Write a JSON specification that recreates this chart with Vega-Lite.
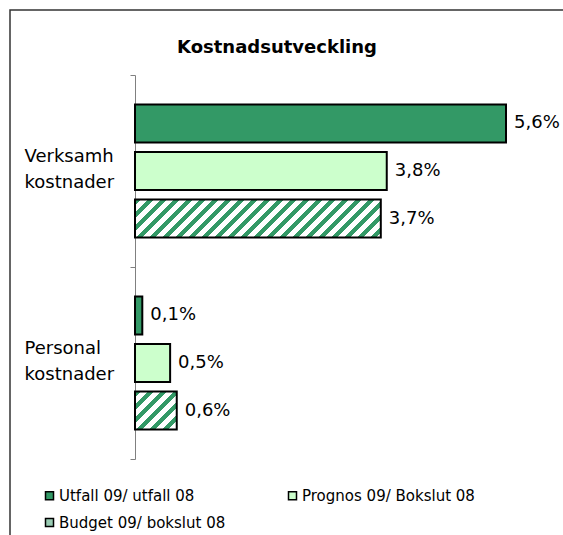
{
  "$schema": "https://vega.github.io/schema/vega-lite/v6.json",
  "width": 560,
  "height": 540,
  "autosize": {"type": "none"},
  "padding": {"left": 10, "top": 10, "right": 0, "bottom": 0},
  "background": "white",
  "title": {
    "text": "Kostnadsutveckling",
    "anchor": "start",
    "dx": 167,
    "offset": -70,
    "baseline": "alphabetic",
    "font": "DejaVu Sans",
    "fontSize": 18,
    "fontWeight": "bold",
    "color": "black"
  },
  "data": {
    "values": [
      {"cat": "Verksamh kostnader", "series": "Utfall 09/ utfall 08", "value": 0.056},
      {"cat": "Verksamh kostnader", "series": "Prognos 09/ Bokslut 08", "value": 0.038},
      {"cat": "Verksamh kostnader", "series": "Budget 09/ bokslut 08", "value": 0.0371},
      {"cat": "Personal kostnader", "series": "Utfall 09/ utfall 08", "value": 0.0011},
      {"cat": "Personal kostnader", "series": "Prognos 09/ Bokslut 08", "value": 0.0053},
      {"cat": "Personal kostnader", "series": "Budget 09/ bokslut 08", "value": 0.0063}
    ]
  },
  "encoding": {
    "y": {
      "field": "cat",
      "type": "nominal",
      "sort": ["Verksamh kostnader", "Personal kostnader"],
      "scale": {"range": [65, 449], "paddingInner": 0, "paddingOuter": 0},
      "axis": {
        "title": null,
        "offset": -125,
        "domainColor": "#808080",
        "tickColor": "#808080",
        "tickSize": 5,
        "tickBand": "extent",
        "labelFont": "DejaVu Sans",
        "labelFontSize": 18,
        "labelColor": "black",
        "labelAlign": "left",
        "labelBaseline": "middle",
        "labelPadding": 106,
        "labelOffset": -15,
        "labelLineHeight": 26,
        "labelLimit": 300,
        "labelExpr": "split(datum.label, ' ')"
      }
    },
    "yOffset": {
      "field": "series",
      "type": "nominal",
      "sort": ["Utfall 09/ utfall 08", "Prognos 09/ Bokslut 08", "Budget 09/ bokslut 08"],
      "scale": {"paddingInner": 0.2, "paddingOuter": 0.621}
    },
    "x": {
      "field": "value",
      "type": "quantitative",
      "scale": {"domain": [-0.01887, 0.06566], "nice": false, "zero": false},
      "axis": null
    }
  },
  "layer": [
    {
      "mark": {"type": "bar", "stroke": "black", "strokeWidth": 2},
      "encoding": {
        "x2": {"datum": 0},
        "fill": {
          "condition": [
            {
              "test": "datum.series === 'Budget 09/ bokslut 08' && datum.cat === 'Verksamh kostnader'",
              "value": {
                "gradient": "linear", "x1": 0, "y1": 0, "x2": 1.1277, "y2": 0.17434,
                "stops": [
                  {"offset": 0, "color": "#339966"}, {"offset": 0.0206, "color": "#339966"}, {"offset": 0.0206, "color": "#ffffff"}, {"offset": 0.0458, "color": "#ffffff"},
                  {"offset": 0.0458, "color": "#339966"}, {"offset": 0.0664, "color": "#339966"}, {"offset": 0.0664, "color": "#ffffff"}, {"offset": 0.0916, "color": "#ffffff"},
                  {"offset": 0.0916, "color": "#339966"}, {"offset": 0.1122, "color": "#339966"}, {"offset": 0.1122, "color": "#ffffff"}, {"offset": 0.1374, "color": "#ffffff"},
                  {"offset": 0.1374, "color": "#339966"}, {"offset": 0.158, "color": "#339966"}, {"offset": 0.158, "color": "#ffffff"}, {"offset": 0.1832, "color": "#ffffff"},
                  {"offset": 0.1832, "color": "#339966"}, {"offset": 0.2038, "color": "#339966"}, {"offset": 0.2038, "color": "#ffffff"}, {"offset": 0.229, "color": "#ffffff"},
                  {"offset": 0.229, "color": "#339966"}, {"offset": 0.2497, "color": "#339966"}, {"offset": 0.2497, "color": "#ffffff"}, {"offset": 0.2748, "color": "#ffffff"},
                  {"offset": 0.2748, "color": "#339966"}, {"offset": 0.2955, "color": "#339966"}, {"offset": 0.2955, "color": "#ffffff"}, {"offset": 0.3207, "color": "#ffffff"},
                  {"offset": 0.3207, "color": "#339966"}, {"offset": 0.3413, "color": "#339966"}, {"offset": 0.3413, "color": "#ffffff"}, {"offset": 0.3665, "color": "#ffffff"},
                  {"offset": 0.3665, "color": "#339966"}, {"offset": 0.3871, "color": "#339966"}, {"offset": 0.3871, "color": "#ffffff"}, {"offset": 0.4123, "color": "#ffffff"},
                  {"offset": 0.4123, "color": "#339966"}, {"offset": 0.4329, "color": "#339966"}, {"offset": 0.4329, "color": "#ffffff"}, {"offset": 0.4581, "color": "#ffffff"},
                  {"offset": 0.4581, "color": "#339966"}, {"offset": 0.4787, "color": "#339966"}, {"offset": 0.4787, "color": "#ffffff"}, {"offset": 0.5039, "color": "#ffffff"},
                  {"offset": 0.5039, "color": "#339966"}, {"offset": 0.5245, "color": "#339966"}, {"offset": 0.5245, "color": "#ffffff"}, {"offset": 0.5497, "color": "#ffffff"},
                  {"offset": 0.5497, "color": "#339966"}, {"offset": 0.5703, "color": "#339966"}, {"offset": 0.5703, "color": "#ffffff"}, {"offset": 0.5955, "color": "#ffffff"},
                  {"offset": 0.5955, "color": "#339966"}, {"offset": 0.6161, "color": "#339966"}, {"offset": 0.6161, "color": "#ffffff"}, {"offset": 0.6413, "color": "#ffffff"},
                  {"offset": 0.6413, "color": "#339966"}, {"offset": 0.6619, "color": "#339966"}, {"offset": 0.6619, "color": "#ffffff"}, {"offset": 0.6871, "color": "#ffffff"},
                  {"offset": 0.6871, "color": "#339966"}, {"offset": 0.7077, "color": "#339966"}, {"offset": 0.7077, "color": "#ffffff"}, {"offset": 0.7329, "color": "#ffffff"},
                  {"offset": 0.7329, "color": "#339966"}, {"offset": 0.7535, "color": "#339966"}, {"offset": 0.7535, "color": "#ffffff"}, {"offset": 0.7787, "color": "#ffffff"},
                  {"offset": 0.7787, "color": "#339966"}, {"offset": 0.7994, "color": "#339966"}, {"offset": 0.7994, "color": "#ffffff"}, {"offset": 0.8245, "color": "#ffffff"},
                  {"offset": 0.8245, "color": "#339966"}, {"offset": 0.8452, "color": "#339966"}, {"offset": 0.8452, "color": "#ffffff"}, {"offset": 0.8704, "color": "#ffffff"},
                  {"offset": 0.8704, "color": "#339966"}, {"offset": 0.891, "color": "#339966"}, {"offset": 0.891, "color": "#ffffff"}, {"offset": 0.9162, "color": "#ffffff"},
                  {"offset": 0.9162, "color": "#339966"}, {"offset": 0.9368, "color": "#339966"}, {"offset": 0.9368, "color": "#ffffff"}, {"offset": 0.962, "color": "#ffffff"},
                  {"offset": 0.962, "color": "#339966"}, {"offset": 0.9826, "color": "#339966"}, {"offset": 0.9826, "color": "#ffffff"}, {"offset": 1, "color": "#ffffff"}
                ]
              }
            },
            {
              "test": "datum.series === 'Budget 09/ bokslut 08' && datum.cat === 'Personal kostnader'",
              "value": {
                "gradient": "linear", "x1": 0, "y1": 0, "x2": 1.0446, "y2": 0.951,
                "stops": [
                  {"offset": 0, "color": "#339966"}, {"offset": 0.0734, "color": "#339966"}, {"offset": 0.0734, "color": "#ffffff"}, {"offset": 0.163, "color": "#ffffff"},
                  {"offset": 0.163, "color": "#339966"}, {"offset": 0.2364, "color": "#339966"}, {"offset": 0.2364, "color": "#ffffff"}, {"offset": 0.3261, "color": "#ffffff"},
                  {"offset": 0.3261, "color": "#339966"}, {"offset": 0.3994, "color": "#339966"}, {"offset": 0.3994, "color": "#ffffff"}, {"offset": 0.4891, "color": "#ffffff"},
                  {"offset": 0.4891, "color": "#339966"}, {"offset": 0.5625, "color": "#339966"}, {"offset": 0.5625, "color": "#ffffff"}, {"offset": 0.6521, "color": "#ffffff"},
                  {"offset": 0.6521, "color": "#339966"}, {"offset": 0.7255, "color": "#339966"}, {"offset": 0.7255, "color": "#ffffff"}, {"offset": 0.8152, "color": "#ffffff"},
                  {"offset": 0.8152, "color": "#339966"}, {"offset": 0.8885, "color": "#339966"}, {"offset": 0.8885, "color": "#ffffff"}, {"offset": 0.9782, "color": "#ffffff"},
                  {"offset": 0.9782, "color": "#339966"}, {"offset": 1, "color": "#339966"}
                ]
              }
            }
          ],
          "field": "series",
          "type": "nominal",
          "sort": ["Utfall 09/ utfall 08", "Prognos 09/ Bokslut 08", "Budget 09/ bokslut 08"],
          "scale": {
            "domain": ["Utfall 09/ utfall 08", "Prognos 09/ Bokslut 08", "Budget 09/ bokslut 08"],
            "range": ["#339966", "#CCFFCC", "#99CCB3"]
          },
          "legend": {
            "title": null,
            "orient": "none",
            "direction": "horizontal",
            "legendX": 32,
            "legendY": 478,
            "columns": 2,
            "columnPadding": 59,
            "rowPadding": 11,
            "padding": 0,
            "symbolType": "square",
            "symbolSize": 64,
            "symbolStrokeColor": "black",
            "symbolStrokeWidth": 1.5,
            "labelFont": "DejaVu Sans",
            "labelFontSize": 15,
            "labelColor": "black",
            "labelOffset": 2,
            "labelLimit": 300,
            "encode": {
              "symbols": {
                "update": {
                  "stroke": {"value": "black"},
                  "strokeWidth": {"value": 1.5}
                }
              }
            }
          }
        }
      }
    },
    {
      "mark": {"type": "text", "align": "left", "baseline": "middle", "dx": 8, "font": "DejaVu Sans", "fontSize": 18, "color": "black"},
      "encoding": {
        "text": {"field": "value", "type": "quantitative", "format": ".1%"}
      }
    }
  ],
  "config": {
    "view": {"stroke": "#333333", "strokeWidth": 1.5},
    "locale": {"number": {"decimal": ",", "thousands": " ", "grouping": [3], "currency": ["", " kr"]}}
  }
}
